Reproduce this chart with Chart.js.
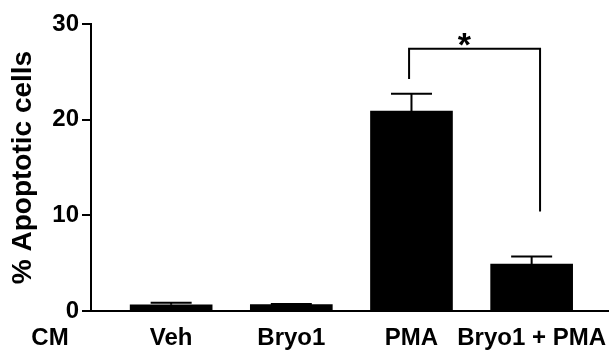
<!DOCTYPE html>
<html>
<head>
<meta charset="utf-8">
<script src="https://cdn.jsdelivr.net/npm/chart.js@4"></script>
<style>
  html, body { margin: 0; padding: 0; background: #fff; }
  #wrap { width: 611px; height: 350px; }
</style>
</head>
<body>
<div id="wrap"><canvas id="grafica"></canvas></div>
<script>
// datos
const categorias = ['Veh', 'Bryo1', 'PMA', 'Bryo1 + PMA'];
const medias = [0.65, 0.68, 20.9, 4.9];
const errores = [0.2, 0.05, 1.8, 0.8];
const yTicks = [0, 10, 20, 30];
const etiquetaGrupo = 'CM';

// corchete de significancia (en unidades del eje)
const corcheteX = [1.98, 3.07];
const corcheteY = 27.4;
const corcheteFin = [24.25, 10.4];
const estrella = { x: 2.44, y: 26.7, texto: '*' };

const FONT = "'Liberation Sans', Arial, sans-serif";

const barrasError = {
    id: 'barrasError',
    afterDatasetsDraw(chart) {
        const ctx = chart.ctx;
        const y = chart.scales.y;
        const meta = chart.getDatasetMeta(0);
        ctx.save();
        ctx.strokeStyle = '#000';
        ctx.lineWidth = 2;
        meta.data.forEach((el, i) => {
            const top = y.getPixelForValue(medias[i] + errores[i]);
            ctx.beginPath();
            ctx.moveTo(el.x, el.y);
            ctx.lineTo(el.x, top);
            ctx.moveTo(el.x - 20.5, top);
            ctx.lineTo(el.x + 20.5, top);
            ctx.stroke();
        });

        // corchete
        const x = chart.scales.x;
        const x1 = x.getPixelForValue(corcheteX[0]);
        const x2 = x.getPixelForValue(corcheteX[1]);
        const yc = y.getPixelForValue(corcheteY);
        ctx.beginPath();
        ctx.moveTo(x1, y.getPixelForValue(corcheteFin[0]));
        ctx.lineTo(x1, yc);
        ctx.lineTo(x2, yc);
        ctx.lineTo(x2, y.getPixelForValue(corcheteFin[1]));
        ctx.stroke();

        ctx.fillStyle = '#000';
        ctx.font = 'bold 34px ' + FONT;
        ctx.textAlign = 'center';
        ctx.textBaseline = 'alphabetic';
        ctx.fillText(estrella.texto, x.getPixelForValue(estrella.x), y.getPixelForValue(estrella.y));

        // etiqueta CM a la izquierda del eje
        ctx.font = 'bold 24px ' + FONT;
        ctx.textBaseline = 'middle';
        ctx.fillText(etiquetaGrupo, 50, 338);
        ctx.restore();
    }
};

new Chart(document.getElementById('grafica').getContext('2d'), {
    type: 'bar',
    data: {
        datasets: [{
            data: categorias.map((c, i) => ({ x: i, y: medias[i] })),
            backgroundColor: '#000',
            borderWidth: 0,
            barThickness: 82
        }]
    },
    options: {
        responsive: true,
        maintainAspectRatio: false,
        animation: false,
        layout: { padding: { top: 24, right: 0, left: 0, bottom: 0 } },
        plugins: { legend: { display: false }, tooltip: { enabled: false } },
        scales: {
            x: {
                type: 'linear',
                offset: false,
                min: -0.667,
                max: 3.642,
                grid: { display: false },
                border: { display: true, color: '#000', width: 2 },
                afterBuildTicks: (s) => { s.ticks = categorias.map((c, i) => ({ value: i })); },
                afterFit: (s) => { s.height = 39; },
                ticks: {
                    color: '#000',
                    padding: 5,
                    maxRotation: 0,
                    autoSkip: false,
                    font: { family: FONT, size: 24, weight: 'bold' },
                    callback: (v) => categorias[v]
                }
            },
            y: {
                min: 0,
                max: 30,
                afterBuildTicks: (s) => { s.ticks = yTicks.map(v => ({ value: v })); },
                afterFit: (s) => { s.width = 91; },
                grid: { drawOnChartArea: false, color: '#000', lineWidth: 2, tickLength: 9 },
                border: { display: true, color: '#000', width: 2 },
                ticks: {
                    color: '#000',
                    padding: 3,
                    font: { family: FONT, size: 24, weight: 'bold' }
                },
                title: {
                    display: true,
                    text: '% Apoptotic cells',
                    color: '#000',
                    padding: { top: 6, bottom: 0 },
                    font: { family: FONT, size: 28, weight: 'bold' }
                }
            }
        }
    },
    plugins: [barrasError]
});
</script>
</body>
</html>
